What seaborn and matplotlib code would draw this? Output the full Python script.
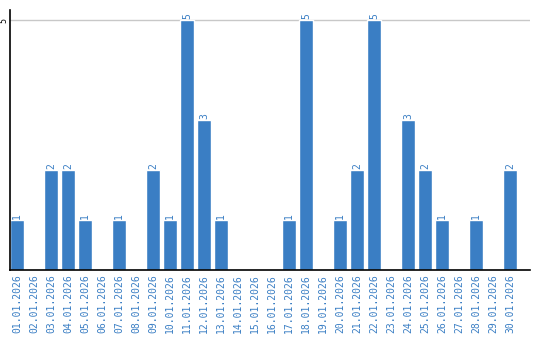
import matplotlib
matplotlib.use("Agg")
import matplotlib.pyplot as plt
import seaborn as sns
import pandas as pd

dates = [f"{d:02d}.01.2026" for d in range(1, 31)]
counts = [1, 0, 2, 2, 1, 0, 1, 0, 2, 1, 5, 3, 1, 0, 0, 0, 1, 5, 0, 1, 2, 5, 0, 3, 2, 1, 0, 1, 0, 2]
yticks = [5]

BLUE = "#3a7ec4"
sns.set_style("white")
plt.rcParams['font.family'] = ['DejaVu Sans Mono', 'DejaVu Sans']

df = pd.DataFrame({"date": dates, "count": counts})
fig = plt.figure(figsize=(5.4, 3.4), dpi=100)
ax = fig.add_axes([10/540, 70/340, 520/540, 260/340])
sns.barplot(data=df, x="date", y="count", color=BLUE, saturation=1, width=14/17, ax=ax)
ax.set_xlim(-7/17, 30.18)
ax.set_ylim(0, 5.2)
ax.set_yticks(yticks)
ax.set_yticklabels([str(t) for t in yticks], rotation=90, fontsize=6, color="black", va="center")
ax.yaxis.grid(True, color="#c8c8c8", linewidth=1)
ax.set_axisbelow(True)
ax.tick_params(axis="x", length=0, pad=3)
ax.tick_params(axis="y", length=0, pad=1)
ax.set_xticks(range(len(dates)))
ax.set_xticklabels(dates, rotation=90, fontsize=7, color=BLUE)
ax.set_xlabel("")
ax.set_ylabel("")
for s in ["top", "right"]:
    ax.spines[s].set_visible(False)
for s in ["left", "bottom"]:
    ax.spines[s].set_color("black")
    ax.spines[s].set_linewidth(1.2)
cont = ax.containers[0]
ax.bar_label(cont, labels=[str(c) if c else "" for c in counts], rotation=90,
             fontsize=7, color=BLUE, padding=1)
fig.savefig("out.png", dpi=100)
